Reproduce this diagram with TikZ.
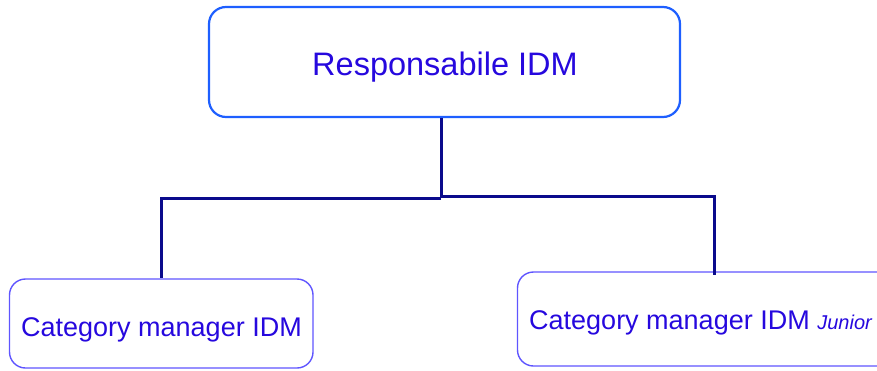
\documentclass[tikz,border=0pt]{standalone}
\usepackage{fontspec}
\setmainfont{Liberation Sans}
\definecolor{textblue}{RGB}{38,8,222}
\definecolor{topblue}{RGB}{30,95,255}
\definecolor{subblue}{RGB}{95,85,255}
\definecolor{navy}{RGB}{10,10,140}
\begin{document}
\begin{tikzpicture}[x=1pt,y=-1pt,
  txt/.style={text=textblue, inner sep=0pt, anchor=base},
  topbox/.style={draw=topblue, line width=2.2pt, rounded corners=17pt, inner sep=0pt},
  subbox/.style={draw=subblue, line width=1.4pt, rounded corners=16pt, inner sep=0pt},
  conn/.style={draw=navy, line width=3pt}]
\useasboundingbox (0,0) rectangle (877,370);
\node[topbox, minimum width=471pt, minimum height=110pt] (top) at (444.5,62) {};
\node[subbox, minimum width=303.5pt, minimum height=89pt] (left) at (161.25,323.5) {};
\node[subbox, minimum width=377pt, minimum height=94pt] (right) at (706,319) {};
\node[txt, font=\fontsize{32.5}{36}\selectfont] (toplbl) at (445,75) {Responsabile IDM};
\node[txt, font=\fontsize{27}{30}\selectfont] (leftlbl) at (161.5,336) {Category manager IDM};
\node[txt, anchor=base west, font=\fontsize{27}{30}\selectfont] (rightlbl) at (529,329) {Category manager IDM {\fontsize{20}{24}\selectfont\itshape Junior}};
\coordinate (j) at (441,196.5);
\coordinate (jl) at (441,198.5);
\coordinate (rv) at (714,275);
\draw[conn] (top.south -| j) -- (j) -| (rv);
\draw[conn] (jl) -| (left.north);
\end{tikzpicture}
\end{document}
